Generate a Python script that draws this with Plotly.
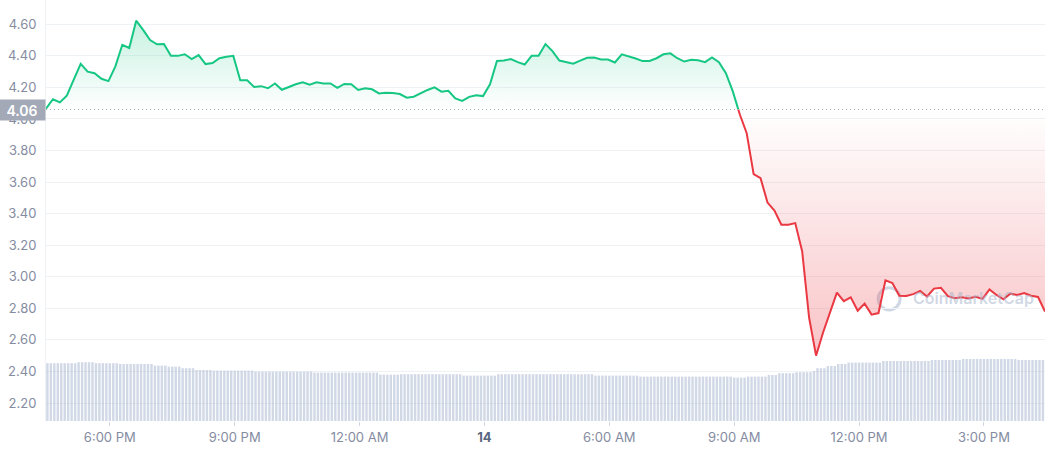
import plotly.graph_objects as go
import pandas as pd

# ---------------- data ----------------
PRICE_START = "2022-05-13 16:28"
PRICE_FREQ = "10min"
price = [
    4.066, 4.125, 4.105, 4.148, 4.25, 4.35, 4.30, 4.29, 4.255, 4.24, 4.333, 4.47,
    4.45, 4.623, 4.565, 4.50, 4.473, 4.475, 4.40, 4.40, 4.41, 4.38, 4.405, 4.348,
    4.355, 4.385, 4.395, 4.40, 4.245, 4.245, 4.203, 4.208, 4.195, 4.225, 4.185, 4.205,
    4.22, 4.233, 4.218, 4.232, 4.225, 4.225, 4.197, 4.222, 4.22, 4.184, 4.195, 4.188,
    4.162, 4.166, 4.165, 4.158, 4.135, 4.141, 4.165, 4.184, 4.20, 4.173, 4.179, 4.13,
    4.115, 4.14, 4.15, 4.145, 4.22, 4.368, 4.37, 4.38, 4.36, 4.345, 4.40, 4.40,
    4.475, 4.43, 4.37, 4.362, 4.35, 4.37, 4.388, 4.39, 4.377, 4.377, 4.358, 4.41,
    4.398, 4.383, 4.367, 4.368, 4.385, 4.41, 4.416, 4.385, 4.364, 4.375, 4.372, 4.36,
    4.39, 4.36, 4.29, 4.175, 4.03, 3.91, 3.65, 3.625, 3.47, 3.42, 3.33, 3.33,
    3.34, 3.16, 2.74, 2.50, 2.645, 2.77, 2.90, 2.845, 2.87, 2.785, 2.83, 2.76,
    2.77, 2.977, 2.96, 2.88, 2.878, 2.89, 2.91, 2.875, 2.925, 2.93, 2.877, 2.864,
    2.87, 2.862, 2.873, 2.86, 2.92, 2.885, 2.857, 2.893, 2.885, 2.897, 2.88, 2.872,
    2.78,
]

VOL_START = "2022-05-13 16:30"
VOL_FREQ = "5min"
volume = [  # one row per hour, 5-minute bars (millions)
    28.9, 28.9, 28.9, 28.9, 28.9, 28.9, 28.9, 28.9, 28.9, 29.4, 29.4, 29.4,
    29.4, 29.4, 28.9, 28.9, 28.9, 28.9, 28.9, 28.9, 28.9, 28.5, 28.5, 28.5,
    28.5, 28.5, 28.5, 28.5, 28.5, 28.5, 28.5, 27.7, 27.7, 27.7, 27.7, 27.2,
    27.2, 27.2, 27.2, 26.4, 26.4, 26.4, 26.4, 25.5, 25.5, 25.5, 25.5, 25.5,
    25.2, 25.2, 25.2, 25.2, 25.2, 25.2, 25.2, 25.2, 25.2, 25.2, 25.2, 25.2,
    24.7, 24.7, 24.7, 24.7, 24.7, 24.7, 24.7, 24.7, 24.7, 24.7, 24.7, 24.7,
    24.7, 24.7, 24.7, 24.7, 24.7, 24.2, 24.2, 24.2, 24.2, 24.2, 24.2, 24.2,
    24.2, 24.2, 24.2, 24.2, 24.2, 24.2, 24.2, 24.2, 24.2, 24.2, 24.2, 24.2,
    23.2, 23.2, 23.2, 23.2, 23.2, 23.2, 23.4, 23.4, 23.4, 23.4, 23.4, 23.4,
    23.4, 23.4, 23.4, 23.4, 23.4, 23.4, 23.4, 23.4, 23.4, 23.4, 23.4, 23.4,
    22.7, 22.7, 22.7, 22.7, 22.7, 22.7, 22.7, 22.7, 22.7, 22.7, 23.4, 23.4,
    23.4, 23.4, 23.4, 23.4, 23.4, 23.4, 23.4, 23.4, 23.4, 23.4, 23.4, 23.4,
    23.4, 23.4, 23.4, 23.4, 23.4, 23.4, 23.4, 23.4, 23.4, 23.4, 23.4, 23.4,
    23.4, 23.4, 22.7, 22.7, 22.7, 22.7, 22.7, 22.7, 22.7, 22.7, 22.7, 22.7,
    22.7, 22.7, 22.7, 22.2, 22.2, 22.2, 22.2, 22.2, 22.2, 22.2, 22.2, 22.2,
    22.2, 22.2, 22.2, 22.2, 22.2, 22.2, 22.2, 22.2, 22.2, 22.2, 22.2, 22.2,
    22.2, 22.2, 22.2, 22.2, 22.2, 22.2, 21.7, 21.7, 21.7, 21.7, 22.2, 22.2,
    22.2, 22.2, 22.2, 22.2, 23.0, 23.0, 23.0, 23.9, 23.9, 23.9, 23.9, 23.9,
    24.4, 24.4, 24.4, 24.4, 24.4, 25.0, 26.4, 26.4, 26.4, 27.5, 27.5, 27.5,
    28.5, 28.5, 28.5, 29.2, 29.2, 29.2, 29.2, 29.2, 29.2, 29.2, 29.2, 29.2,
    29.2, 30.0, 30.0, 30.0, 30.0, 30.0, 30.0, 30.0, 30.0, 30.0, 30.0, 30.0,
    30.0, 30.0, 30.0, 30.5, 30.5, 30.5, 30.5, 30.5, 30.5, 30.5, 30.5, 30.5,
    31.0, 31.0, 31.0, 31.0, 31.0, 31.0, 31.0, 31.0, 31.0, 31.0, 31.0, 31.0,
    31.0, 31.0, 31.0, 31.0, 30.5, 30.5, 30.5, 30.5, 30.5, 30.5, 30.5, 30.5,
]

BASE_PRICE = 4.06
Y_RANGE = [2.086, 4.754]
VOL_RANGE = [0, 210.5]
X_RANGE = ["2022-05-13 16:28", "2022-05-14 16:28"]

tick_vals = ["2022-05-13 18:00", "2022-05-13 21:00", "2022-05-14 00:00", "2022-05-14 03:00",
             "2022-05-14 06:00", "2022-05-14 09:00", "2022-05-14 12:00", "2022-05-14 15:00"]
tick_text = ["6:00 PM", "9:00 PM", "12:00 AM", "<b><span style='color:#58667e'>14</span></b>",
             "6:00 AM", "9:00 AM", "12:00 PM", "3:00 PM"]

# ---------------- styling ----------------
GREEN = "#16c784"
RED = "#ea3943"
GRID = "#eff2f5"
TICK_COLOR = "#858ca2"
FONT = "Inter"

t_price = pd.date_range(PRICE_START, periods=len(price), freq=PRICE_FREQ)
t_vol = pd.date_range(VOL_START, periods=len(volume), freq=VOL_FREQ)

frac = (BASE_PRICE - Y_RANGE[0]) / (Y_RANGE[1] - Y_RANGE[0])

fig = go.Figure()

# volume bars
fig.add_trace(go.Bar(
    x=t_vol, y=volume, yaxis="y2",
    marker=dict(color="rgba(178,190,213,0.6)", line=dict(width=0)),
    hoverinfo="skip", showlegend=False,
))

# green (above baseline) – clipped by its own subplot domain
fig.add_trace(go.Scatter(
    x=t_price, y=price, yaxis="y3", mode="lines",
    line=dict(color=GREEN, width=2),
    fill="tozeroy",
    fillgradient=dict(type="vertical", start=BASE_PRICE, stop=max(price),
                      colorscale=[[0, "rgba(22,199,132,0.0)"], [1, "rgba(22,199,132,0.24)"]]),
    showlegend=False, hoverinfo="skip",
))

# red (below baseline)
fig.add_trace(go.Scatter(
    x=t_price, y=[BASE_PRICE] * len(price), yaxis="y4", mode="lines",
    line=dict(width=0, color="rgba(0,0,0,0)"), showlegend=False, hoverinfo="skip",
))
fig.add_trace(go.Scatter(
    x=t_price, y=price, yaxis="y4", mode="lines",
    line=dict(color=RED, width=2),
    fill="tonexty",
    fillgradient=dict(type="vertical", start=min(price), stop=BASE_PRICE,
                      colorscale=[[0, "rgba(234,57,67,0.30)"], [1, "rgba(234,57,67,0.0)"]]),
    showlegend=False, hoverinfo="skip",
))

fig.update_layout(
    width=1045, height=450,
    margin=dict(l=46, r=0, t=0, b=29),
    paper_bgcolor="white", plot_bgcolor="rgba(0,0,0,0)",
    font=dict(family=FONT, size=13, color=TICK_COLOR),
    bargap=0.3,
    showlegend=False,
    xaxis=dict(
        range=X_RANGE, anchor="y", tickvals=tick_vals, ticktext=tick_text,
        showgrid=False, zeroline=False, showline=False,
        ticks="outside", ticklen=4, tickcolor="#cfd6e4",
        tickfont=dict(family=FONT, size=13, color=TICK_COLOR),
    ),
    yaxis=dict(
        range=Y_RANGE, domain=[0, 1], tick0=2.2, dtick=0.2, tickformat=".2f",
        showgrid=True, gridcolor=GRID, gridwidth=1, zeroline=False,
        showline=True, linecolor=GRID, linewidth=1,
        ticks="", ticklabelstandoff=6,
        tickfont=dict(family=FONT, size=13, color=TICK_COLOR),
    ),
    yaxis2=dict(range=VOL_RANGE, overlaying="y", visible=False),
    yaxis3=dict(range=[BASE_PRICE, Y_RANGE[1]], domain=[frac, 1], anchor="x", visible=False),
    yaxis4=dict(range=[Y_RANGE[0], BASE_PRICE], domain=[0, frac], anchor="x", visible=False),
)

# dotted baseline
fig.add_shape(type="line", xref="paper", x0=0, x1=1, yref="y", y0=BASE_PRICE, y1=BASE_PRICE,
              line=dict(color="#a9b0bd", width=1, dash="1px,3px"), layer="above")

# baseline price label
fig.add_annotation(
    xref="paper", x=0, xanchor="right", yref="y", y=BASE_PRICE, yanchor="middle",
    text=f"{BASE_PRICE:.2f}", showarrow=False,
    width=46, height=20, borderpad=0, bgcolor="#a3a9b6",
    font=dict(family=FONT, size=14, color="white", weight=600),
)

# watermark
fig.add_shape(type="circle", xref="paper", yref="y",
              x0=0.833, x1=0.855, y0=2.79, y1=2.93,
              line=dict(color="rgba(170,182,205,0.55)", width=3), layer="below")
fig.add_annotation(
    xref="paper", x=0.866, xanchor="left", yref="y", y=2.866, yanchor="middle",
    text="CoinMarketCap", showarrow=False,
    font=dict(family=FONT, size=16, color="rgba(170,182,205,0.55)", weight=600),
)

fig.write_html(
    "out.html",
    config={"displayModeBar": False},
    post_script="document.body.style.margin='0';document.body.style.overflow='hidden';",
)
